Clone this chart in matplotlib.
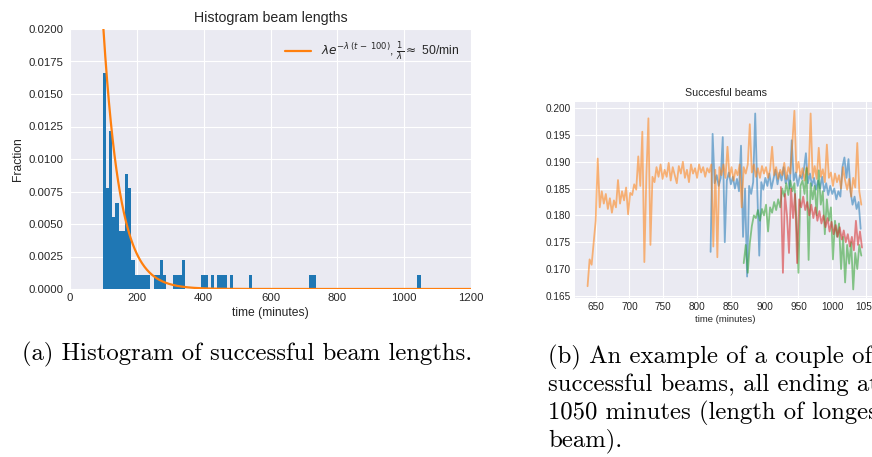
import numpy as np
import matplotlib
matplotlib.use("Agg")
import matplotlib.pyplot as plt
from matplotlib.ticker import FormatStrFormatter

# ---------------- data ----------------
# histogram (a): 100 equal bins between first and last beam length
hist_min, hist_max, n_bins = 98.0, 1049.0, 100
hist_counts = [15, 7, 11, 5, 6, 4, 4, 8, 7, 2,
               1, 1, 1, 1, 1, 0, 1, 1, 2, 1,
               0, 0, 1, 1, 1, 2, 0, 0, 0, 0,
               0, 1, 1, 0, 1, 0, 1, 1, 1, 0,
               1, 0, 0, 0, 0, 0, 1, 0, 0, 0] + [0] * 15 + [1, 1] + [0] * 32 + [1]
exp_scale = 50.0       # 1/lambda
exp_shift = 100.0
hist_xticks = [0, 200, 400, 600, 800, 1000, 1200]
hist_yticks = [0.0, 0.0025, 0.005, 0.0075, 0.01, 0.0125, 0.015, 0.0175, 0.02]

# beams (b): values sampled every 3 minutes
beam_step = 3
orange_start = 638
orange_vals = [.1668, .1718, .1708, .1750, .1790, .1906, .1815, .1845, .1822, .1840,
               .1812, .1832, .1805, .1828, .1815, .1866, .1822, .1845, .1828, .1852,
               .1802, .1842, .1838, .1858, .1848, .1910, .1855, .1956, .1713, .1875,
               .1981, .1745, .1872, .1862, .1890, .1872, .1895, .1868, .1885, .1872,
               .1898, .1865, .1890, .1875, .1860, .1892, .1878, .1900, .1870, .1885,
               .1862, .1895, .1878, .1888, .1870, .1895, .1880, .1890, .1872, .1888,
               .1880, .1895, .1742, .1885, .1722, .1890, .1875, .1895, .1870, .1928,
               .1872, .1890, .1865, .1885, .1875, .1895, .1815, .1890, .1878, .1895,
               .1970, .1880, .1895, .1872, .1888, .1870, .1892, .1878, .1890, .1870,
               .1885, .1928, .1875, .1890, .1868, .1885, .1875, .1898, .1868, .1890,
               .1878, .1935, .1995, .1880, .1900, .1872, .1888, .1865, .1890, .1876,
               .1990, .1870, .1892, .1868, .1926, .1872, .1886, .1862, .1932, .1870,
               .1880, .1855, .1878, .1862, .1875, .1850, .1890, .1865, .1848, .1868,
               .1835, .1870, .1852, .1935, .1845, .1820]
blue_start = 820
blue_vals = [.1732, .1952, .1860, .1875, .1855, .1870, .1946, .1750, .1865, .1880,
             .1858, .1872, .1850, .1868, .1845, .1930, .1760, .1850, .1686, .1855,
             .1840, .1862, .1990, .1850, .1725, .1862, .1848, .1870, .1855, .1878,
             .1850, .1868, .1885, .1858, .1880, .1865, .1890, .1860, .1875, .1850,
             .1940, .1865, .1880, .1855, .1875, .1868, .1885, .1916, .1860, .1878,
             .1855, .1870, .1848, .1865, .1850, .1872, .1845, .1860, .1838, .1855,
             .1840, .1850, .1830, .1845, .1835, .1890, .1908, .1870, .1905, .1845,
             .1820, .1835, .1812, .1825, .1775]
green_start = 869
green_vals = [.1711, .1745, .1693, .1748, .1780, .1800, .1795, .1810, .1790, .1812,
              .1800, .1820, .1770, .1815, .1805, .1825, .1810, .1830, .1815, .1850,
              .1835, .1860, .1838, .1865, .1845, .1860, .1790, .1693, .1855, .1865,
              .1840, .1888, .1717, .1860, .1830, .1855, .1800, .1884, .1820, .1845,
              .1765, .1830, .1790, .1815, .1718, .1790, .1760, .1785, .1700, .1760,
              .1675, .1745, .1710, .1750, .1662, .1730, .1700, .1745, .1725]
red_start = 924
red_vals = [.1853, .1693, .1840, .1800, .1730, .1850, .1795, .1840, .1711, .1830,
            .1815, .1835, .1810, .1825, .1800, .1820, .1795, .1815, .1790, .1808,
            .1785, .1800, .1778, .1795, .1770, .1788, .1765, .1782, .1760, .1778,
            .1755, .1772, .1750, .1765, .1742, .1760, .1735, .1790, .1745, .1770,
            .1740]
beam_xticks = [650, 700, 750, 800, 850, 900, 950, 1000, 1050]
beam_yticks = [0.165, 0.170, 0.175, 0.180, 0.185, 0.190, 0.195, 0.200]

caption_a = "(a) Histogram of successful beam lengths."
caption_b = ["(b) An example of a couple of",
             "successful beams, all ending at",
             "1050 minutes (length of longest",
             "beam)."]

# ---------------- style ----------------
plt.style.use("seaborn-v0_8-darkgrid")
plt.rcParams["font.family"] = ["Liberation Sans", "DejaVu Sans"]
plt.rcParams["mathtext.fontset"] = "dejavusans"
TXT = "#262626"

W, H = 872, 457
fig = plt.figure(figsize=(W / 100, H / 100), dpi=100, facecolor="white")

def px_axes(l, t, r, b):
    return fig.add_axes([l / W, 1 - b / H, (r - l) / W, (b - t) / H])

# ---------------- (a) histogram ----------------
ax1 = px_axes(70, 29, 471, 289)
edges = np.linspace(hist_min, hist_max, n_bins + 1)
counts = np.array(hist_counts, dtype=float)
width = edges[1] - edges[0]
dens = counts / (counts.sum() * width)
ax1.stairs(dens, edges, fill=True, color="#1f77b4", zorder=2)
tt = np.linspace(exp_shift, 1200, 600)
lam = 1.0 / exp_scale
ax1.plot(tt, lam * np.exp(-lam * (tt - exp_shift)), color="#ff7f0e", lw=1.6, zorder=3,
         label=r"$\lambda e^{-\lambda\,(t\,-\,100)}$, $\frac{1}{\lambda}\approx$ 50/min")
ax1.set_xlim(0, 1200)
ax1.set_ylim(0, 0.02)
ax1.set_xticks(hist_xticks)
ax1.set_yticks(hist_yticks)
ax1.yaxis.set_major_formatter(FormatStrFormatter("%.4f"))
ax1.tick_params(axis="both", labelsize=8.2, colors=TXT, length=0)
ax1.tick_params(axis="x", pad=3)
ax1.tick_params(axis="y", pad=5)
ax1.set_title("Histogram beam lengths", fontsize=10.2, color=TXT, pad=5)
ax1.set_xlabel("time (minutes)", fontsize=8.7, color=TXT, labelpad=3)
ax1.set_ylabel("Fraction", fontsize=8.7, color=TXT, labelpad=3)
ax1.legend(loc="upper right", frameon=False, fontsize=8.7, handlelength=2.2,
           borderaxespad=0.55, labelcolor=TXT)
for s in ax1.spines.values():
    s.set_visible(False)

# ---------------- (b) beams ----------------
ax2 = px_axes(575, 101.7, 876.2, 298)
series = [(blue_start, blue_vals, "#1f77b4"),
          (orange_start, orange_vals, "#ff7f0e"),
          (green_start, green_vals, "#2ca02c"),
          (red_start, red_vals, "#d62728")]
for start, vals, col in series:
    t = start + beam_step * np.arange(len(vals))
    ax2.plot(t, vals, color=col, alpha=0.55, lw=1.3)
ax2.set_xlim(619.4, 1065)
ax2.set_ylim(0.1646, 0.2012)
ax2.set_xticks(beam_xticks)
ax2.set_yticks(beam_yticks)
ax2.yaxis.set_major_formatter(FormatStrFormatter("%.3f"))
ax2.tick_params(axis="both", labelsize=7.2, colors=TXT, length=0, pad=3)
ax2.set_title("Succesful beams", fontsize=7.7, color=TXT, pad=4)
ax2.set_xlabel("time (minutes)", fontsize=6.8, color=TXT, labelpad=2)
for s in ax2.spines.values():
    s.set_visible(False)

# ---------------- captions ----------------
cap_size = 17.8
fig.text(22 / W, 1 - 354 / H, caption_a, fontfamily="cmr10", fontsize=cap_size,
         va="center", ha="left", color="black")
for i, line in enumerate(caption_b):
    fig.text(548 / W, 1 - (357 + 28 * i) / H, line, fontfamily="cmr10",
             fontsize=cap_size, va="center", ha="left", color="black")

fig.savefig("out.png", dpi=100, facecolor="white")
